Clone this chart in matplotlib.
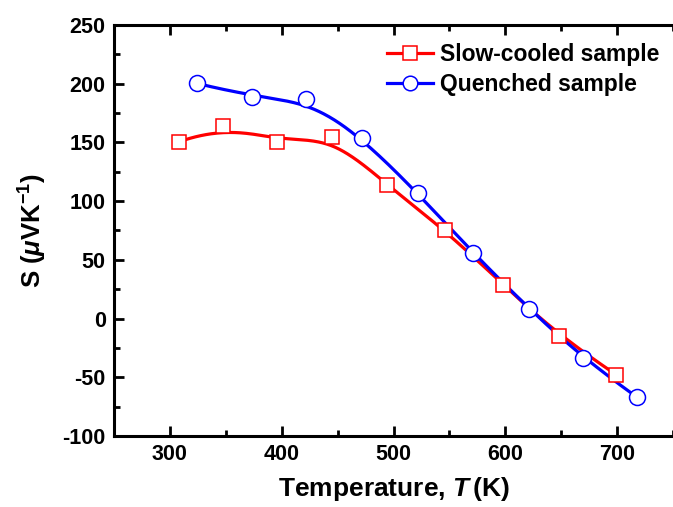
import numpy as np
import matplotlib
matplotlib.use("Agg")
import matplotlib.pyplot as plt
from matplotlib.ticker import MultipleLocator

plt.rcParams['font.family'] = ['Liberation Sans', 'DejaVu Sans']
plt.rcParams['font.weight'] = 'bold'
plt.rcParams['axes.unicode_minus'] = False
plt.rcParams['mathtext.fontset'] = 'custom'
plt.rcParams['mathtext.rm'] = 'Liberation Sans:bold'
plt.rcParams['mathtext.it'] = 'Liberation Sans:bold:italic'
plt.rcParams['mathtext.bf'] = 'Liberation Sans:bold'

# Data
slow_T = [307.7, 347.6, 395.6, 444.7, 494.6, 546.4, 598.3, 648.2, 699.2]
slow_S = [150.4, 163.8, 150.4, 154.7, 113.4, 75.1, 28.7, -15.1, -47.8]
quench_T = [324.6, 373.7, 421.7, 471.6, 521.5, 571.4, 621.3, 669.3, 718.0]
quench_S = [200.2, 188.8, 187.1, 154.1, 106.9, 55.7, 8.2, -33.8, -67.1]
labels = ["Slow-cooled sample", "Quenched sample"]


def bspline(x, y, n=400, k=3):
    P = np.column_stack([x, y]).astype(float)
    m = len(P)
    knots = np.concatenate([np.zeros(k), np.linspace(0, 1, m - k + 1), np.ones(k)])
    t = np.linspace(0, 1, n)
    t[-1] = 1 - 1e-12

    def N(i, p, t):
        if p == 0:
            return ((knots[i] <= t) & (t < knots[i + 1])).astype(float)
        out = np.zeros_like(t)
        d1 = knots[i + p] - knots[i]
        if d1 > 0:
            out += (t - knots[i]) / d1 * N(i, p - 1, t)
        d2 = knots[i + p + 1] - knots[i + 1]
        if d2 > 0:
            out += (knots[i + p + 1] - t) / d2 * N(i + 1, p - 1, t)
        return out

    B = np.array([N(i, k, t) for i in range(m)])
    C = B.T @ P
    return C[:, 0], C[:, 1]


fig = plt.figure(figsize=(6.73, 5.07), dpi=100)
ax = fig.add_axes([114 / 673, 71 / 507, 559 / 673, 411 / 507])

series = [(slow_T, slow_S, '#FF0000', 's', 10.5),
          (quench_T, quench_S, '#0000FF', 'o', 11.5)]
for (xs, ys, c, m, ms), lab in zip(series, labels):
    bx, by = bspline(xs, ys)
    ax.plot(bx, by, color=c, lw=2.3, zorder=2)
    ax.plot(xs, ys, ls='none', marker=m, ms=ms, mfc='white', mec=c, mew=1.1, zorder=3)
    ax.plot([], [], color=c, lw=2.3, marker=m, ms=ms - 1, mfc='white', mec=c, mew=1.1, label=lab)

ax.set_xlim(250, 750)
ax.set_ylim(-100, 250)
ax.xaxis.set_major_locator(MultipleLocator(100))
ax.xaxis.set_minor_locator(MultipleLocator(50))
ax.yaxis.set_major_locator(MultipleLocator(50))
ax.yaxis.set_minor_locator(MultipleLocator(25))
ax.set_xticks([300, 400, 500, 600, 700])
ax.tick_params(which='both', direction='in', top=True, right=False, width=2)
ax.tick_params(which='major', length=7, labelsize=15.5, pad=6)
ax.tick_params(which='minor', length=4)
for lab in ax.get_xticklabels() + ax.get_yticklabels():
    lab.set_fontweight('bold')
for s in ['left', 'bottom', 'top']:
    ax.spines[s].set_linewidth(2.2)
ax.spines['right'].set_visible(False)

ax.set_xlabel(r'Temperature, $T\,$(K)', fontsize=19, fontweight='bold', labelpad=7)
ax.set_ylabel(r'S ($\mu$VK$^{\mathregular{-1}}$)', fontsize=18.5, fontweight='bold', labelpad=10)

leg = ax.legend(loc='upper right', bbox_to_anchor=(1.0, 0.99), frameon=False,
                fontsize=16.5, handlelength=2.0, handletextpad=0.3, labelspacing=0.3,
                borderaxespad=0.2)
for t in leg.get_texts():
    t.set_fontweight('bold')

fig.savefig('out.png', dpi=100)
